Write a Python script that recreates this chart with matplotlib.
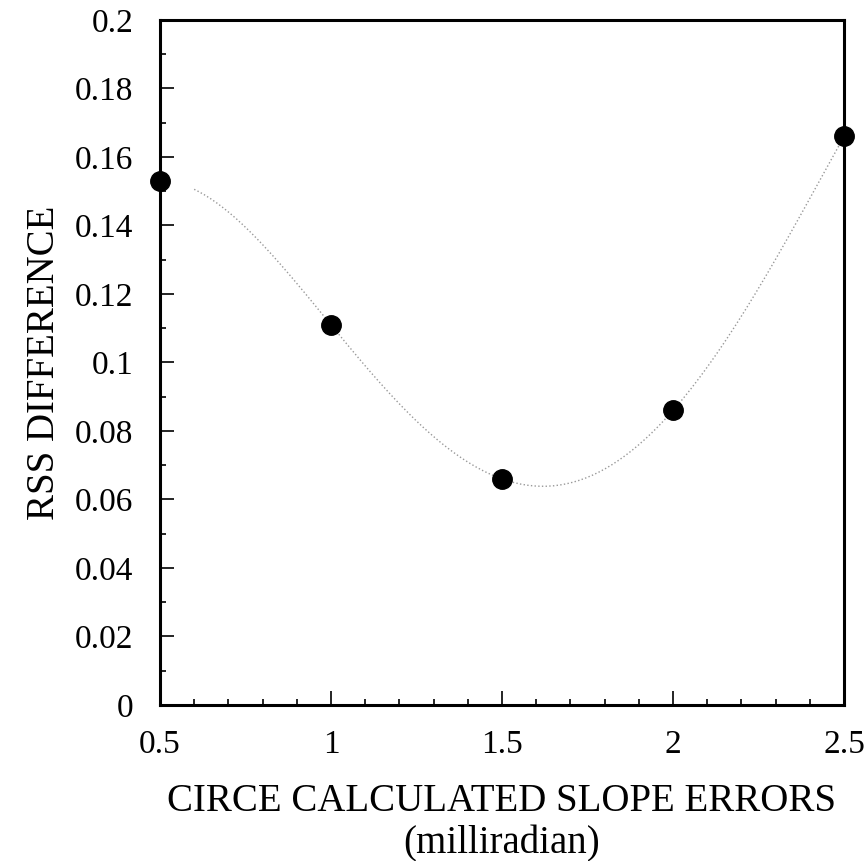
import matplotlib.pyplot as plt
import numpy as np
from matplotlib.ticker import MultipleLocator

plt.rcParams['font.family'] = ['Liberation Serif', 'DejaVu Serif']

# measured points
slope_err = [0.5, 1.0, 1.5, 2.0, 2.5]
rss_diff = [0.153, 0.111, 0.066, 0.086, 0.166]

x_ticks = [0.5, 1, 1.5, 2, 2.5]
x_labels = ['0.5', '1', '1.5', '2', '2.5']
y_ticks = [0, 0.02, 0.04, 0.06, 0.08, 0.1, 0.12, 0.14, 0.16, 0.18, 0.2]
y_labels = ['0', '0.02', '0.04', '0.06', '0.08', '0.1', '0.12', '0.14',
            '0.16', '0.18', '0.2']

fig = plt.figure(figsize=(8.67, 8.61), dpi=100)
ax = fig.add_axes([0.1845, 0.1812, 0.789, 0.7956])

# smooth curve through the data (4th order polynomial)
coef = np.polyfit(slope_err, rss_diff, 4)
xs = np.linspace(0.6, 2.5, 200)
ax.plot(xs, np.polyval(coef, xs), ls=':', color='0.6', lw=1.0)

ax.plot(slope_err, rss_diff, 'o', color='black', ms=14, clip_on=False, zorder=5)

ax.set_xlim(0.5, 2.5)
ax.set_ylim(0, 0.2)
ax.set_xticks(x_ticks)
ax.set_xticklabels(x_labels)
ax.set_yticks(y_ticks)
ax.set_yticklabels(y_labels)
ax.xaxis.set_minor_locator(MultipleLocator(0.1))
ax.yaxis.set_minor_locator(MultipleLocator(0.01))

ax.tick_params(which='both', direction='in', top=False, right=False,
               labelsize=24, width=1.2)
ax.tick_params(which='major', length=10)
ax.tick_params(which='minor', length=4)
ax.tick_params(axis='x', pad=18)
ax.tick_params(axis='y', pad=19)

for s in ax.spines.values():
    s.set_linewidth(2.2)

ax.set_xlabel('CIRCE CALCULATED SLOPE ERRORS\n(milliradian)', fontsize=28,
              linespacing=1.2, labelpad=16)
ax.set_ylabel('RSS DIFFERENCE', fontsize=28, labelpad=9)

fig.savefig('out.png', dpi=100)
